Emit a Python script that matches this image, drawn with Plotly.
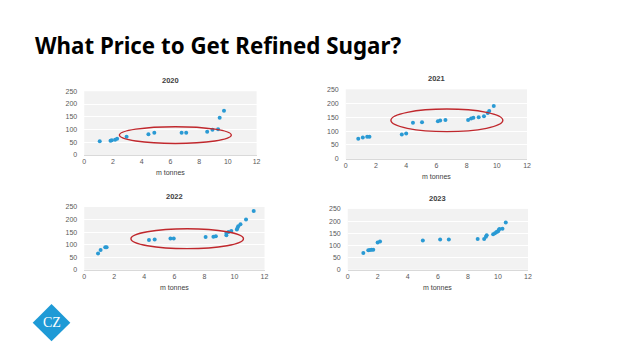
import plotly.graph_objects as go

W, H = 638, 358

years = ["2020", "2021", "2022", "2023"]

x2020 = [1.08, 1.83, 1.92, 2.15, 2.29, 2.95, 4.47, 4.88, 6.78, 7.1, 8.56, 8.93, 9.32, 9.43, 9.73]
y2020 = [54, 56, 58, 60, 64, 72, 81, 87, 87, 87, 91, 99, 101, 146, 174]

x2021 = [0.83, 1.13, 1.42, 1.57, 3.71, 4.0, 4.45, 5.05, 6.1, 6.25, 6.6, 8.1, 8.3, 8.45, 8.8, 9.15, 9.4, 9.5, 9.8]
y2021 = [72, 77, 80, 80, 88, 91, 130, 132, 135, 138, 140, 140, 145, 148, 150, 153, 165, 172, 190]

x2022 = [0.92, 1.09, 1.4, 1.49, 4.31, 4.69, 5.74, 5.96, 8.08, 8.6, 8.76, 9.46, 9.46, 9.6, 9.79, 10.16, 10.2, 10.25, 10.4, 10.77, 11.28]
y2022 = [65, 78, 89, 89, 118, 120, 124, 124, 130, 131, 133, 137, 146, 150, 154, 160, 166, 173, 181, 200, 234]

x2023 = [1.04, 1.37, 1.48, 1.59, 1.7, 1.99, 2.15, 5.0, 6.15, 6.73, 8.65, 9.08, 9.2, 9.25, 9.68, 9.8, 9.9, 10.0, 10.05, 10.1, 10.3, 10.52]
y2023 = [69, 80, 81, 82, 82, 112, 116, 120, 124, 124, 126, 126, 135, 142, 146, 150, 155, 157, 163, 167, 168, 194]

xs = [x2020, x2021, x2022, x2023]
ys = [y2020, y2021, y2022, y2023]

# highlighted ellipses (x0, x1, y0, y1) in data units; 2023 has none
ellipses = [(2.45, 10.24, 45, 111), (2.99, 10.4, 98, 179), (3.11, 10.6, 84, 163), None]

x_ticks = [0, 2, 4, 6, 8, 10, 12]
y_ticks = [0, 50, 100, 150, 200, 250]

# plot areas in pixels: (left, right, top, bottom)
areas = [(83, 257, 89, 154), (347, 530, 87, 158), (83, 265, 207, 271), (349, 531, 209, 271)]

def px(v):
    return v / W

def py(v):
    return 1 - v / H

fig = go.Figure()
blue = "#2a9ad4"
for i in range(4):
    sfx = "" if i == 0 else str(i + 1)
    fig.add_trace(go.Scatter(x=xs[i], y=ys[i], mode="markers",
                             marker=dict(color=blue, size=4),
                             xaxis="x" + sfx, yaxis="y" + sfx, showlegend=False,
                             hoverinfo="skip"))
    l, r, t, b = areas[i]
    fig.layout["xaxis" + sfx] = dict(
        domain=[px(l), px(r)], range=[0, 12], anchor="y" + sfx,
        tickvals=x_ticks, ticktext=[str(v) for v in x_ticks],
        showgrid=False, zeroline=False, showline=True, linecolor="#d9d9d9", linewidth=1,
        ticks="", tickfont=dict(size=7, color="#595959", family="Liberation Sans"), fixedrange=True)
    fig.layout["yaxis" + sfx] = dict(
        domain=[py(b), py(t)], range=[0, 250], anchor="x" + sfx,
        tickvals=y_ticks, ticktext=[str(v) for v in y_ticks],
        showgrid=True, gridcolor="#ffffff", gridwidth=1, zeroline=False, showline=False,
        ticks="", ticklabelstandoff=6,
        tickfont=dict(size=7, color="#595959", family="Liberation Sans"), fixedrange=True)
    fig.add_annotation(x=(px(l) + px(r)) / 2, y=py(t - 11), xref="paper", yref="paper",
                       yanchor="middle", xanchor="center",
                       text="<b>" + years[i] + "</b>", showarrow=False,
                       font=dict(size=7.5, color="#404040", family="Liberation Sans"))
    fig.add_annotation(x=(px(l) + px(r)) / 2, y=py(b + 18), xref="paper", yref="paper",
                       yanchor="middle", xanchor="center",
                       text="m tonnes", showarrow=False,
                       font=dict(size=7, color="#404040", family="Liberation Sans"))
    e = ellipses[i]
    if e:
        fig.add_shape(type="circle", xref="x" + sfx, yref="y" + sfx,
                      x0=e[0], x1=e[1], y0=e[2], y1=e[3],
                      line=dict(color="#c0282d", width=1.4))

fig.add_annotation(x=px(31), y=py(42), xref="paper", yref="paper", xanchor="left", yanchor="middle",
                   text="<b>What Price to Get Refined Sugar?</b>", showarrow=False,
                   font=dict(size=22.3, color="#000000", family="Noto Sans"))

# logo diamond
cx, cy, s = 50, 325, 19
path = f"M {px(cx)} {py(cy - s)} L {px(cx + s)} {py(cy)} L {px(cx)} {py(cy + s)} L {px(cx - s)} {py(cy)} Z"
fig.add_shape(type="path", xref="paper", yref="paper", path=path,
              fillcolor="#1e9ad6", line=dict(width=0))
fig.add_annotation(x=px(cx), y=py(cy), xref="paper", yref="paper", text="CZ",
                   xanchor="center", yanchor="middle",
                   showarrow=False, font=dict(size=14, color="white", family="Liberation Serif"))

fig.update_layout(width=W, height=H, margin=dict(l=0, r=0, t=0, b=0),
                  paper_bgcolor="white", plot_bgcolor="#f2f2f2")

fig.write_html("out.html", config={"displayModeBar": False},
               post_script="document.body.style.margin='0';")
